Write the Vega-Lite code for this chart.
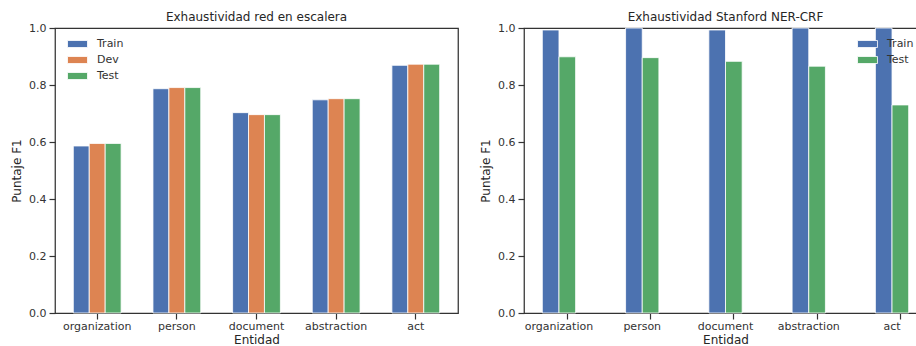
{
  "$schema": "https://vega.github.io/schema/vega-lite/v6.json",
  "padding": {"left": 9, "top": 10, "right": 0, "bottom": 0},
  "background": "white",
  "datasets": {
    "red": [
      {"entidad": "organization", "conjunto": "Train", "f1": 0.586},
      {"entidad": "organization", "conjunto": "Dev", "f1": 0.595},
      {"entidad": "organization", "conjunto": "Test", "f1": 0.595},
      {"entidad": "person", "conjunto": "Train", "f1": 0.787},
      {"entidad": "person", "conjunto": "Dev", "f1": 0.791},
      {"entidad": "person", "conjunto": "Test", "f1": 0.791},
      {"entidad": "document", "conjunto": "Train", "f1": 0.703},
      {"entidad": "document", "conjunto": "Dev", "f1": 0.696},
      {"entidad": "document", "conjunto": "Test", "f1": 0.696},
      {"entidad": "abstraction", "conjunto": "Train", "f1": 0.748},
      {"entidad": "abstraction", "conjunto": "Dev", "f1": 0.752},
      {"entidad": "abstraction", "conjunto": "Test", "f1": 0.752},
      {"entidad": "act", "conjunto": "Train", "f1": 0.869},
      {"entidad": "act", "conjunto": "Dev", "f1": 0.873},
      {"entidad": "act", "conjunto": "Test", "f1": 0.873}
    ],
    "stanford": [
      {"entidad": "organization", "conjunto": "Train", "f1": 0.993},
      {"entidad": "organization", "conjunto": "Test", "f1": 0.899},
      {"entidad": "person", "conjunto": "Train", "f1": 1.0},
      {"entidad": "person", "conjunto": "Test", "f1": 0.896},
      {"entidad": "document", "conjunto": "Train", "f1": 0.993},
      {"entidad": "document", "conjunto": "Test", "f1": 0.883},
      {"entidad": "abstraction", "conjunto": "Train", "f1": 1.0},
      {"entidad": "abstraction", "conjunto": "Test", "f1": 0.866},
      {"entidad": "act", "conjunto": "Train", "f1": 1.0},
      {"entidad": "act", "conjunto": "Test", "f1": 0.73}
    ]
  },
  "spacing": 19,
  "resolve": {
    "scale": {"x": "independent", "xOffset": "independent", "y": "independent", "color": "independent"},
    "legend": {"color": "independent"}
  },
  "hconcat": [
    {
      "title": "Exhaustividad red en escalera",
      "data": {"name": "red"},
      "width": 403,
      "height": 285,
      "mark": {"type": "bar", "stroke": "white", "strokeWidth": 0.8},
      "encoding": {
        "x": {
          "field": "entidad", "type": "nominal",
          "sort": ["organization", "person", "document", "abstraction", "act"],
          "scale": {"paddingInner": 0.2, "paddingOuter": 0.13},
          "axis": {"title": "Entidad", "labelAngle": 0}
        },
        "xOffset": {
          "field": "conjunto", "type": "nominal",
          "sort": ["Train", "Dev", "Test"],
          "scale": {"domain": ["Train", "Dev", "Test"], "paddingInner": 0, "paddingOuter": 0.5}
        },
        "y": {
          "field": "f1", "type": "quantitative",
          "scale": {"domain": [0, 1], "nice": false},
          "axis": {"title": "Puntaje F1", "values": [0, 0.2, 0.4, 0.6, 0.8, 1.0], "format": ".1f"}
        },
        "color": {
          "field": "conjunto", "type": "nominal",
          "scale": {"domain": ["Train", "Dev", "Test"], "range": ["#4C72B0", "#DD8452", "#55A868"]},
          "legend": {"orient": "none", "legendX": 12, "legendY": 10, "title": null}
        }
      }
    },
    {
      "title": "Exhaustividad Stanford NER-CRF",
      "data": {"name": "stanford"},
      "width": 403,
      "height": 285,
      "mark": {"type": "bar", "stroke": "white", "strokeWidth": 0.8},
      "encoding": {
        "x": {
          "field": "entidad", "type": "nominal",
          "sort": ["organization", "person", "document", "abstraction", "act"],
          "scale": {"paddingInner": 0.2, "paddingOuter": 0.02},
          "axis": {"title": "Entidad", "labelAngle": 0, "bandPosition": 0.625}
        },
        "xOffset": {
          "field": "conjunto", "type": "nominal",
          "sort": ["Train", "Test"],
          "scale": {"domain": ["Train", "Test"], "paddingInner": 0, "paddingOuter": 1}
        },
        "y": {
          "field": "f1", "type": "quantitative",
          "scale": {"domain": [0, 1], "nice": false},
          "axis": {"title": "Puntaje F1", "values": [0, 0.2, 0.4, 0.6, 0.8, 1.0], "format": ".1f"}
        },
        "color": {
          "field": "conjunto", "type": "nominal",
          "scale": {"domain": ["Train", "Test"], "range": ["#4C72B0", "#55A868"]},
          "legend": {"orient": "none", "legendX": 333, "legendY": 10, "title": null}
        }
      }
    }
  ],
  "config": {
    "font": "DejaVu Sans",
    "view": {"stroke": "#333333", "strokeWidth": 1.25},
    "title": {"fontSize": 12, "fontWeight": "normal", "color": "#262626", "offset": -2, "frame": "group", "font": "DejaVu Sans"},
    "axis": {
      "domain": false,
      "grid": false,
      "labelFont": "DejaVu Sans",
      "labelFontSize": 11,
      "labelColor": "#333333",
      "tickColor": "#333333",
      "tickSize": 6,
      "tickWidth": 1.2,
      "titleFont": "DejaVu Sans",
      "titleFontSize": 12,
      "titleFontWeight": "normal",
      "titleColor": "#262626"
    },
    "axisX": {"labelPadding": 1, "titlePadding": 3},
    "axisY": {"labelPadding": 3, "titlePadding": 5},
    "legend": {
      "labelFont": "DejaVu Sans",
      "labelFontSize": 11,
      "labelColor": "#333333",
      "symbolType": "M-1,-0.35H1V0.35H-1Z",
      "symbolSize": 400,
      "symbolStrokeColor": "white",
      "symbolStrokeWidth": 0.8,
      "labelOffset": 9,
      "clipHeight": 12,
      "rowPadding": 4,
      "padding": 0
    }
  }
}
